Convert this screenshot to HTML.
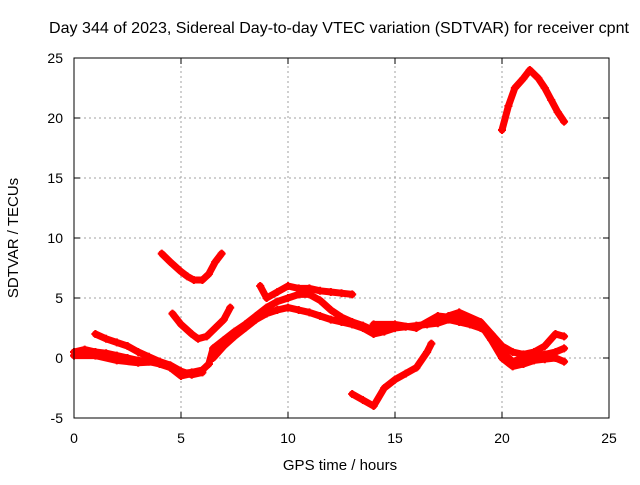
<!DOCTYPE html>
<html><head><meta charset="utf-8"><style>
body{margin:0;background:#fff;font-family:"Liberation Sans",Arial,sans-serif;}
svg text{font-family:"Liberation Sans",Arial,sans-serif;font-size:14px;fill:#000;}
</style></head><body>
<svg id="chart" width="640" height="480" xmlns="http://www.w3.org/2000/svg">
<text x="339" y="33" text-anchor="middle" style="font-size:16px" textLength="580" lengthAdjust="spacingAndGlyphs">Day 344 of 2023, Sidereal Day-to-day VTEC variation (SDTVAR) for receiver cpnt</text>
<text x="340" y="470" text-anchor="middle" style="font-size:15px">GPS time / hours</text>
<text x="0" y="0" text-anchor="middle" style="font-size:15px" transform="translate(18,238) rotate(-90)">SDTVAR / TECUs</text>
<g id="grid"></g><g id="ticks"></g><g id="series"></g>
<rect x="74" y="58" width="535" height="360" fill="none" stroke="#000" stroke-width="1"/>
</svg>
<script>
const xTicks=[0,5,10,15,20,25];
const yTicks=[-5,0,5,10,15,20,25];
const s1=[[0,0.5],[0.5,0.7],[1,0.5],[1.5,0.4],[2,0.2],[2.5,0],[3,-0.2],[3.5,-0.3],[4,-0.5],[4.5,-0.8],[5,-1.3],[5.5,-1.2],[6,-1],[6.3,-0.5]];
const s1b=[[0,0.2],[1,0.2],[2,-0.2],[3,-0.4],[4,-0.3],[4.5,-0.6],[5,-1.1],[5.5,-1.4],[6,-1.2]];
const s2=[[1,2],[1.5,1.6],[2,1.3],[2.5,1],[3,0.5],[3.5,0.1],[4,-0.3],[4.5,-0.8],[5,-1.5],[5.5,-1.3]];
const s3=[[4.1,8.7],[4.5,8],[5,7.2],[5.3,6.8],[5.6,6.5],[6,6.5],[6.3,7],[6.6,8],[6.9,8.7]];
const s4=[[4.6,3.7],[5,2.8],[5.5,2],[5.8,1.6],[6.2,1.8],[6.6,2.5],[7,3.2],[7.3,4.2]];
const s5=[[6.3,-0.5],[6.5,0.8],[7,1.5],[7.5,2.2],[8,2.8],[8.5,3.5],[9,4.2],[9.5,4.7],[10,5],[10.5,5.3],[11,5.3],[11.5,4.8],[12,4],[12.5,3.4],[13,3],[13.5,2.7],[14,2.3],[14.5,2.3],[15,2.5]];
const s6=[[8.7,6],[9,5],[9.5,5.5],[10,6],[10.5,5.8],[11,5.8],[11.5,5.6],[12,5.5],[12.5,5.4],[13,5.3]];
const s7=[[6.5,0],[7,1],[7.5,1.8],[8,2.5],[8.5,3.2],[9,3.7],[9.5,4],[10,4.2],[10.5,4],[11,3.8],[11.5,3.5],[12,3.2],[12.5,3],[13,2.8],[13.5,2.5],[14,2],[14.5,2.2],[15,2.5],[15.5,2.6],[16,2.7],[16.5,2.8],[17,2.9],[17.5,3.2],[18,3],[18.5,2.8],[19,2.5],[19.5,2],[20,1],[20.5,0.5],[21,0.3],[21.5,0.5],[22,1],[22.5,2],[22.9,1.8]];
const s8=[[13,-3],[13.5,-3.5],[14,-4],[14.5,-2.5],[15,-1.8],[15.5,-1.3],[16,-0.8],[16.5,0.5],[16.7,1.2]];
const s9=[[14,2.8],[15,2.8],[16,2.5],[17,3.5],[18,3.3],[19,2.8],[19.5,1.5],[20,0],[20.5,-0.7],[21,-0.5],[21.5,-0.2],[22,-0.1],[22.5,0],[22.9,-0.3]];
const s10=[[17.5,3.5],[18,3.8],[19,3],[19.5,2],[20,0.5],[20.5,-0.3],[21,0],[21.5,0.2],[22,0.3],[22.5,0.5],[22.9,0.8]];
const s11=[[20,19],[20.3,21],[20.6,22.5],[21,23.3],[21.3,24],[21.7,23.3],[22,22.5],[22.3,21.5],[22.6,20.5],[22.9,19.7]];
const allSeries=[s1,s1b,s2,s3,s4,s5,s6,s7,s8,s9,s10,s11];
const NS="http://www.w3.org/2000/svg";
const X0=74,X1=609,Y0=418,Y1=58;
function xs(v){return X0+(v-0)/(25-0)*(X1-X0);}
function ys(v){return Y0-(v+5)/(30)*(Y0-Y1);}
const grid=document.getElementById('grid'),ticks=document.getElementById('ticks'),ser=document.getElementById('series');
function mk(t,a,p){const e=document.createElementNS(NS,t);for(const k in a)e.setAttribute(k,a[k]);p.appendChild(e);return e;}
xTicks.forEach(v=>{const x=xs(v);
 if(v>0&&v<25){const g=mk('line',{x1:x,x2:x,y1:Y0,y2:Y1,stroke:'#a0a0a0','stroke-dasharray':'2,3'},grid);
 
 }
 mk('line',{x1:x,x2:x,y1:Y0,y2:Y0-6,stroke:'#000'},ticks);mk('line',{x1:x,x2:x,y1:Y1,y2:Y1+6,stroke:'#000'},ticks);
 const t=mk('text',{x:x,y:443,'text-anchor':'middle'},ticks);t.textContent=v;
 
 });
yTicks.forEach(v=>{const y=ys(v);
 if(v>-5&&v<25){const g=mk('line',{x1:X0,x2:X1,y1:y,y2:y,stroke:'#a0a0a0','stroke-dasharray':'2,3'},grid);
 
 }
 mk('line',{x1:X0,x2:X0+6,y1:y,y2:y,stroke:'#000'},ticks);mk('line',{x1:X1,x2:X1-6,y1:y,y2:y,stroke:'#000'},ticks);
 const t=mk('text',{x:63,y:y+5,'text-anchor':'end'},ticks);t.textContent=v;
 
 });
allSeries.forEach((s,i)=>{
 const pl=mk('polyline',{points:s.map(p=>xs(p[0])+','+ys(p[1])).join(' '),fill:'none',stroke:'#ff0000','stroke-width':7,'stroke-linejoin':'round','stroke-linecap':'round'},ser);
 
 
 s.forEach(p=>{const x=xs(p[0]),y=ys(p[1]);
  const m=mk('path',{d:`M${x-4},${y}H${x+4}M${x},${y-4}V${y+4}`,stroke:'#ff0000','stroke-width':2},ser);
  
  });
});
</script>
</body></html>
